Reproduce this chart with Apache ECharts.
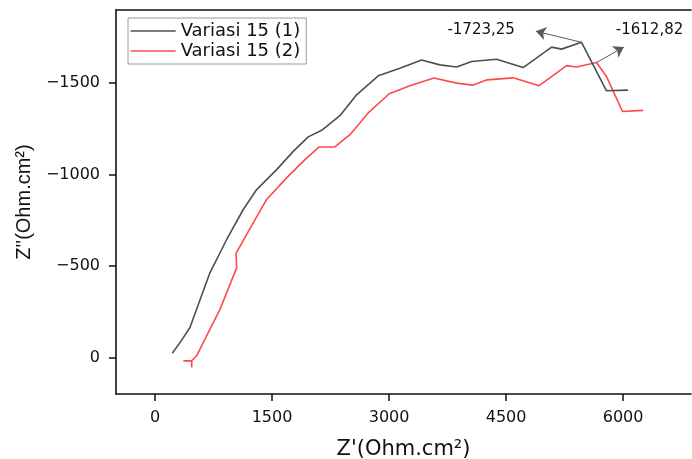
<!DOCTYPE html>
<html>
<head>
<meta charset="utf-8">
<script src="https://cdn.jsdelivr.net/npm/echarts@6/dist/echarts.min.js"></script>
<style>
html,body{margin:0;padding:0;background:#fff;}
#c{width:692px;height:459px;}
</style>
</head>
<body>
<div id="c"></div>
<script>
// Variasi 15 (1)
const zReal1 = [222, 333, 448, 705, 919, 1131, 1303, 1559, 1772, 1964, 2136, 2370, 2584, 2861, 3139, 3417, 3651, 3866, 4058, 4378, 4719, 5083, 5211, 5467, 5787, 6064];
const zImag1 = [-23, -89, -164, -464, -645, -809, -918, -1027, -1127, -1206, -1242, -1322, -1436, -1540, -1582, -1627, -1600, -1588, -1618, -1631, -1585, -1697, -1686, -1723.25, -1458, -1462];
// Variasi 15 (2)
const zReal2 = [364, 470, 470, 472, 534, 619, 833, 1047, 1038, 1175, 1431, 1687, 1922, 2105, 2306, 2498, 2733, 3002, 3267, 3575, 3866, 4070, 4258, 4591, 4924, 5275, 5403, 5659, 5787, 5992, 6256];
const zImag2 = [19, 19, 55, 17, -9, -82, -263, -491, -569, -673, -864, -982, -1082, -1151, -1151, -1218, -1337, -1442, -1486, -1528, -1500, -1489, -1518, -1529, -1486, -1596, -1588, -1612.82, -1536, -1345, -1351];

const seriesNames = ["Variasi 15 (1)", "Variasi 15 (2)"];
const xTicks = [0, 1500, 3000, 4500, 6000];
const yTicks = [-1500, -1000, -500, 0];
const peakLabels = ["-1723,25", "-1612,82"];
const peakIndex = [23, 27];
// annotation arrow tips / label anchors (data units)
const arrowTips = [[4882, -1784], [6009, -1697]];
const labelAnchors = [[4612, -1791], [5906, -1791]];

const pairs = (xs, ys) => xs.map((x, i) => [x, ys[i]]);
const fontH = "DejaVu Sans";
const ink = "#111";

const chart = echarts.init(document.getElementById('c'), null, {renderer: 'canvas'});

function annotation(k) {
  const xs = k === 0 ? zReal1 : zReal2;
  const ys = k === 0 ? zImag1 : zImag2;
  return {
    silent: true,
    symbol: ['none', 'arrow'],
    symbolSize: 10,
    lineStyle: {color: '#5a5a5a', width: 1, type: 'solid', opacity: 1},
    label: {show: false},
    emphasis: {disabled: true},
    data: [[
      {coord: [xs[peakIndex[k]], ys[peakIndex[k]]]},
      {coord: arrowTips[k]}
    ]]
  };
}

function peakText(k) {
  return {
    silent: true,
    symbol: 'circle',
    symbolSize: 0,
    data: [{
      coord: labelAnchors[k],
      label: {
        show: true,
        position: k === 0 ? 'left' : 'right',
        distance: 0,
        formatter: peakLabels[k],
        fontFamily: fontH,
        fontSize: 15,
        color: ink
      }
    }]
  };
}

const option = {
  animation: false,
  backgroundColor: '#fff',
  grid: {left: 116, top: 10, right: 1, bottom: 65, containLabel: false, outerBoundsMode: 'none'},
  legend: {
    orient: 'vertical',
    left: 128, top: 18,
    padding: [4, 6, 4, 2],
    itemWidth: 45, itemHeight: 14, itemGap: 2,
    borderColor: '#9a9a9a', borderWidth: 1,
    backgroundColor: '#fff',
    itemStyle: {opacity: 0},
    lineStyle: {width: 1.3},
    textStyle: {fontFamily: fontH, fontSize: 18, color: ink, lineHeight: 18},
    data: seriesNames
  },
  xAxis: [{
    type: 'value', min: -500, max: 6870,
    name: "Z'(Ohm.cm²)", nameLocation: 'middle', nameGap: 45,
    nameTextStyle: {fontFamily: fontH, fontSize: 21, color: ink},
    axisLine: {show: true, onZero: false, lineStyle: {color: '#111', width: 1.6}},
    axisTick: {show: true, length: 7, customValues: xTicks, lineStyle: {color: '#111', width: 1.5}},
    axisLabel: {customValues: xTicks, margin: 16, fontFamily: fontH, fontSize: 16, color: ink,
      formatter: v => String(v)},
    splitLine: {show: false}
  }, {
    type: 'value', min: -500, max: 6870, position: 'top',
    axisLine: {show: true, onZero: false, lineStyle: {color: '#111', width: 1.6}},
    axisTick: {show: false}, axisLabel: {show: false}, splitLine: {show: false}
  }],
  yAxis: {
    type: 'value', min: -1900, max: 200, inverse: true,
    name: "Z''(Ohm.cm²)", nameLocation: 'middle', nameGap: 80, nameRotate: 90,
    nameTextStyle: {fontFamily: "Liberation Sans", fontSize: 20, color: ink},
    axisLine: {show: true, onZero: false, lineStyle: {color: '#111', width: 1.6}},
    axisTick: {show: true, length: 7, customValues: yTicks, lineStyle: {color: '#111', width: 1.5}},
    axisLabel: {customValues: yTicks, margin: 16, fontFamily: fontH, fontSize: 16, color: ink,
      formatter: v => String(v).replace('-', '\u2212')},
    splitLine: {show: false}
  },
  series: [{
    name: seriesNames[0], type: 'line', symbol: 'none',
    data: pairs(zReal1, zImag1),
    lineStyle: {color: '#4f4f4f', width: 1.6},
    itemStyle: {color: '#4f4f4f'},
    markLine: annotation(0),
    markPoint: peakText(0),
    z: 3
  }, {
    name: seriesNames[1], type: 'line', symbol: 'none',
    data: pairs(zReal2, zImag2),
    lineStyle: {color: '#ff4a4a', width: 1.6},
    itemStyle: {color: '#ff4a4a'},
    markLine: annotation(1),
    markPoint: peakText(1),
    z: 2
  }]
};
chart.setOption(option);
</script>
</body>
</html>
